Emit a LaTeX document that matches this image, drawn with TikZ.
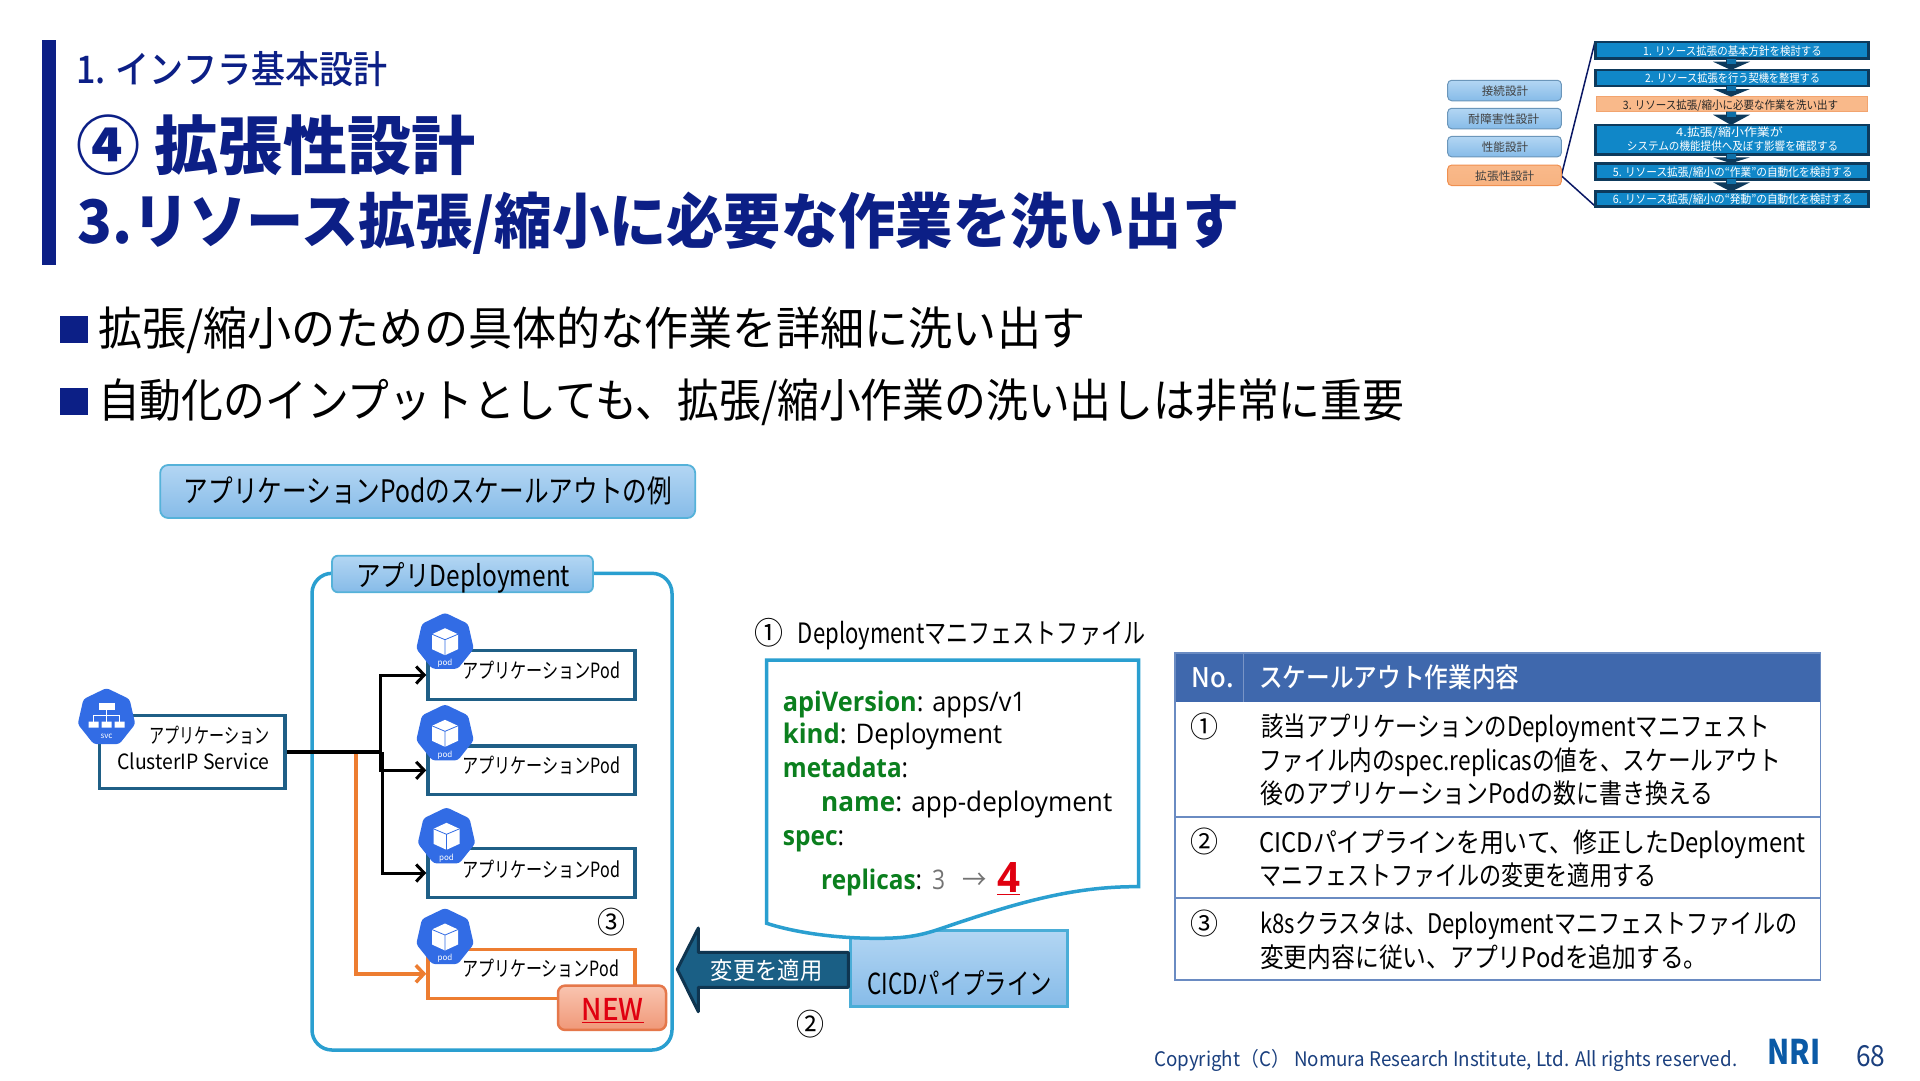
\documentclass[tikz,border=0pt]{standalone}
\usepackage{fontspec}
\usepackage{graphicx}
\usepackage{xcolor}
\setmainfont{Noto Sans CJK JP}
\newfontfamily\codefont{Open Sans}
\newfontfamily\medfont{Noto Sans CJK JP}[UprightFont=* Medium]
\usetikzlibrary{shapes.geometric,arrows.meta}
\definecolor{navy}{HTML}{0C1F86}
\definecolor{podline}{HTML}{1F5F86}
\definecolor{groupblue}{HTML}{2A9FD0}
\definecolor{k8sblue}{HTML}{326CE5}
\definecolor{oran}{HTML}{ED7D31}
\definecolor{codegreen}{HTML}{0B7F1E}
\definecolor{alertred}{HTML}{E00010}
\definecolor{tablehead}{HTML}{3F68AD}
\definecolor{tableline}{HTML}{6A8BC2}
\definecolor{footblue}{HTML}{1A3F7E}
\definecolor{logoblue}{HTML}{0B5AA6}
\definecolor{sblueT}{HTML}{B3D6F3}
\definecolor{sblueB}{HTML}{86BBE8}
\definecolor{arrowfill}{HTML}{1A5F85}
\definecolor{arrowline}{HTML}{0F3550}
\definecolor{navfill}{HTML}{1087C8}
\definecolor{navline}{HTML}{0D3A5C}
\definecolor{navorange}{HTML}{F9B98A}
\definecolor{newT}{HTML}{F9C4B0}
\definecolor{newB}{HTML}{F09878}
\definecolor{newL}{HTML}{E5774A}
\newcounter{tn}
\newcommand\tx[6][black]{\stepcounter{tn}\pgfmathsetmacro\tby{#3+0.38*#5}%
  \node[anchor=base west,inner sep=0pt,text=#1] (t\arabic{tn}) at (#2,\tby)
  {\resizebox{#4pt}{\height}{\fontsize{#5pt}{#5pt}\selectfont #6}};}
\newcommand\kw[1]{\textcolor{codegreen}{\bfseries #1}}
\newcommand\podicon[3]{%
  \node[k8s] (#1) at (#2,#3) {};
  \begin{scope}[shift={(#2,#3)}]
    \fill[white] (0,-14) -- (13,-8) -- (13,7) -- (0,13) -- (-13,7) -- (-13,-8) -- cycle;
    \draw[k8sblue,line width=0.8pt] (-13,-8) -- (0,-2.5) -- (13,-8) (0,-2.5) -- (0,13);
    \stepcounter{tn}
    \node[inner sep=0pt,text=white,font=\fontsize{8pt}{8pt}\selectfont] (t\arabic{tn}) at (0,21) {pod};
  \end{scope}}
\newcommand\navarrow[2]{%
  \fill[navline] (1713,#1+3) -- (1726,#1+3) -- (1726,#1) -- (1736,#1) -- (1736,#1+3) -- (1750,#1+3) -- (1731,#2) -- cycle;
  \fill[navfill!70!navline] (1726.5,#1) rectangle (1735.5,#1+5);}
\tikzset{
  podbox/.style={draw=podline,line width=3.5pt,fill=white,minimum width=207pt,minimum height=48.6pt,inner sep=0pt},
  neworange/.style={draw=oran,line width=3.5pt,fill=white,minimum width=207pt,minimum height=49pt,inner sep=0pt},
  k8s/.style={regular polygon,regular polygon sides=7,minimum size=59pt,inner sep=0pt,fill=k8sblue,rounded corners=3pt},
  bluegrad/.style={top color=sblueT,bottom color=sblueB,draw=groupblue!80!white,line width=1.8pt,inner sep=0pt},
  sidebtn/.style={top color=sblueT,bottom color=sblueB,draw=sblueB!80!black,line width=1pt,rounded corners=4pt,minimum width=113.6pt,minimum height=20.5pt,inner sep=0pt},
  sidebtnon/.style={top color=navorange,bottom color=navorange!90!oran,draw=oran!85!white,line width=1pt,rounded corners=4pt,minimum width=113.6pt,minimum height=20.5pt,inner sep=0pt},
  navbox/.style={fill=navfill,draw=navline,line width=2.6pt,minimum width=272.6pt,inner sep=0pt},
  wire/.style={line width=3pt,black,-{Straight Barb[length=8pt,width=17pt,line width=3pt]}},
  wireorange/.style={line width=4pt,oran,-{Straight Barb[length=8pt,width=17pt,line width=3.5pt]}},
}
\begin{document}
\begin{tikzpicture}[x=1pt,y=-1pt]
\useasboundingbox (0,0) rectangle (1920,1080);
\fill[white] (0,0) rectangle (1920,1080);

% title
\fill[navy] (42,40) rectangle (56,264.5);
\tx[navy]{76}{69}{311}{38}{\medfont 1. インフラ基本設計}
\tx[navy]{76}{145}{399}{64}{\bfseries ④ 拡張性設計}
\tx[navy]{77}{221}{1162}{60}{\bfseries 3.リソース拡張/縮小に必要な作業を洗い出す}

% bullets
\fill[navy] (60,316) rectangle (88,343);
\fill[navy] (60,388) rectangle (88,415);
\tx{98}{328}{987}{46}{拡張/縮小のための具体的な作業を詳細に洗い出す}
\tx{98}{400}{1306}{46}{自動化のインプットとしても、拡張/縮小作業の洗い出しは非常に重要}

% callout
\node[bluegrad,rounded corners=8pt,minimum width=535pt,minimum height=53pt] (callout) at (427.7,491.5) {};
\tx{183.7}{491}{488}{31}{アプリケーションPodのスケールアウトの例}

% navigator
\draw[navy!75!black,line width=1.5pt] (1561.3,175.7) -- (1595,41.7);
\draw[navy!75!black,line width=1.5pt] (1561.3,175.7) -- (1595,206);
\node[sidebtn] (s1) at (1504.5,90.5) {};
\node[sidebtn] (s2) at (1504.5,118.5) {};
\node[sidebtn] (s3) at (1504.5,146.6) {};
\node[sidebtnon] (s4) at (1504.5,175.3) {};
\tx[black!75]{1481.7}{90.7}{46.3}{11.5}{接続設計}
\tx[black!75]{1468}{119}{71}{11.5}{耐障害性設計}
\tx[black!75]{1481.7}{146.7}{46.3}{11.5}{性能設計}
\tx[black!75]{1475}{175.7}{59}{11.5}{拡張性設計}
\node[navbox,minimum height=16.7pt] (n1) at (1732,50.3) {};
\node[navbox,minimum height=16pt] (n2) at (1732,78) {};
\node[minimum width=271pt,minimum height=15pt,inner sep=0pt,fill=navorange,draw=oran!70!white,line width=1pt] (n3) at (1732,104.2) {};
\node[navbox,minimum height=29.3pt] (n4) at (1732,139.7) {};
\node[navbox,minimum height=16pt] (n5) at (1732,171.3) {};
\node[navbox,minimum height=15pt] (n6) at (1732,199.2) {};
\navarrow{58.7}{70}
\navarrow{86}{96.7}
\navarrow{111.7}{125}
\navarrow{154.3}{163.3}
\navarrow{179.3}{191.7}
\tx[white]{1643}{50.7}{178.7}{11.5}{1. リソース拡張の基本方針を検討する}
\tx[white]{1645}{77.7}{175}{11.5}{2. リソース拡張を行う契機を整理する}
\tx[black!85]{1622.7}{105}{215.3}{11.5}{3. リソース拡張/縮小に必要な作業を洗い出す}
\tx[white]{1676}{131.7}{106.7}{11.5}{4.拡張/縮小作業が}
\tx[white]{1626.7}{145.7}{211.3}{11.5}{システムの機能提供へ及ぼす影響を確認する}
\tx[white]{1612.7}{171.7}{239.6}{11.5}{5. リソース拡張/縮小の“作業”の自動化を検討する}
\tx[white]{1612.7}{199}{239.6}{11.5}{6. リソース拡張/縮小の“発動”の自動化を検討する}

% deployment group
\draw[groupblue,line width=3.5pt,rounded corners=20pt] (312,573.3) rectangle (672,1050);
\node[bluegrad,rounded corners=6pt,minimum width=261pt,minimum height=36.6pt] (grouplabel) at (462.5,574) {};
\tx{356}{575.7}{214}{29}{アプリDeployment}

% service and pods
\node[draw=podline,line width=3.5pt,fill=white,minimum width=185.4pt,minimum height=72.6pt,inner sep=0pt] (svc) at (192.3,752) {};
\node[podbox] (pod1) at (531.5,675) {};
\node[podbox] (pod2) at (531.5,770.3) {};
\node[podbox] (pod3) at (531.5,873) {};
\node[neworange] (pod4) at (531.5,973.8) {};
\coordinate (jb) at (380.5,752);
\coordinate (jo) at (356,752);
\draw[oran,line width=4pt] (jo) -- ++(0,6);
\draw[wireorange] (jo) |- (pod4.west);
\draw[black,line width=4.5pt] (svc.east) -- (jb);
\draw[wire] (jb) |- (pod1.west);
\draw[wire] (jb) |- (pod2.west);
\draw[wire] (jb) ++(1.5,0) |- (pod3.west);

\podicon{ic1}{445}{642.2}
\podicon{ic2}{445}{733.8}
\podicon{ic3}{446.5}{836.8}
\podicon{ic4}{445}{937.5}
\node[k8s] (ic0) at (106.5,717.5) {};
\fill[white] (98.5,702.5) rectangle (114.5,709.5);
\fill[white] (88.5,721.5) rectangle (98.5,727.5) (101.5,721.5) rectangle (111.5,727.5) (114.5,721.5) rectangle (124.5,727.5);
\draw[white,line width=1.2pt] (106.5,709.5) -- (106.5,721.5) (93.5,721.5) -- (93.5,715.5) -- (119.5,715.5) -- (119.5,721.5);
\stepcounter{tn}
\node[inner sep=0pt,text=white,font=\fontsize{8pt}{8pt}\selectfont] (t\arabic{tn}) at (106.5,736.5) {svc};

\tx{149}{736}{120}{21}{アプリケーション}
\tx{117}{761.7}{152}{21}{ClusterIP Service}
\tx{462}{671}{158}{21}{アプリケーションPod}
\tx{462}{766}{158}{21}{アプリケーションPod}
\tx{462}{869.3}{158}{21}{アプリケーションPod}
\tx{462}{969}{157}{21}{アプリケーションPod}
\tx{597}{922}{28}{30}{③}

\node[top color=newT,bottom color=newB,draw=newL,line width=2.5pt,rounded corners=7pt,minimum width=108pt,minimum height=44.3pt,inner sep=0pt] (newtag) at (612,1007.8) {};
\tx[alertred]{581.6}{1009}{62}{30}{\medfont\underline{NEW}}

% CICD
\node[bluegrad,draw=groupblue!85!white,line width=3pt,minimum width=216.7pt,minimum height=76pt] (cicd) at (959.3,968.7) {};

% manifest document
\draw[groupblue,line width=3.5pt,fill=white] (766.7,660) -- (1138.7,660) -- (1138.7,886.7)
  .. controls (1070,886) and (1010,905) .. (936.7,930)
  .. controls (915,937) and (900,938.3) .. (876.7,938.3)
  .. controls (830,938.3) and (790,931) .. (766.7,923.3) -- cycle;
\tx{754}{633}{29}{31}{①}
\tx{797.7}{633}{347.3}{28}{Deploymentマニフェストファイル}
\tx{782.7}{701}{243}{27}{\codefont\kw{apiVersion}: apps/v1}
\tx{782.7}{733}{219.3}{27}{\codefont\kw{kind}: Deployment}
\tx{782.7}{767.7}{125.3}{27}{\codefont\kw{metadata}:}
\tx{821}{801}{291}{27}{\codefont\kw{name}: app-deployment}
\tx{782.7}{835}{61.3}{27}{\codefont\kw{spec}:}
\tx{821}{879}{101}{27}{\codefont\kw{replicas}:}
\tx[black!55]{932}{879}{13}{27}{\codefont 3}
\tx[black!55]{962.7}{879}{24.3}{27}{→}
\tx[alertred]{997}{877}{23}{42}{\codefont\bfseries\underline{4}}

\tx{867}{983}{184.7}{29}{CICDパイプライン}

% apply arrow
\draw[arrowline,line width=3pt,fill=arrowfill,line join=round] (848.3,952.3) -- (698.3,952.3) -- (698.3,928) -- (677.3,969.3) -- (698.3,1011.7) -- (698.3,987.3) -- (848.3,987.3) -- cycle;
\tx[white]{710.7}{970}{111.6}{24}{変更を適用}
\tx{796}{1024}{28}{30}{②}

% table
\fill[tablehead] (1175,652.7) rectangle (1820.4,701.7);
\draw[tablehead!70!white,line width=0.8pt] (1243,652.7) -- (1243,701.7);
\draw[tableline,line width=1.6pt] (1175,652.7) rectangle (1820.4,980);
\draw[tableline,line width=1.6pt] (1175,816.7) -- (1820.4,816.7) (1175,897.7) -- (1820.4,897.7);
\tx[white]{1191.7}{677.7}{41.8}{27}{\medfont No.}
\tx[white]{1259}{677.7}{260.4}{27}{\medfont スケールアウト作業内容}
\tx{1190}{726}{28}{29}{①}
\tx{1190}{841.7}{28}{29}{②}
\tx{1190}{923}{28}{29}{③}
\tx{1261}{726.7}{508.8}{27}{該当アプリケーションのDeploymentマニフェスト}
\tx{1259}{760}{522}{27}{ファイル内のspec.replicasの値を、スケールアウト}
\tx{1260}{793.3}{453}{27}{後のアプリケーションPodの数に書き換える}
\tx{1259}{842}{546.7}{27}{CICDパイプラインを用いて、修正したDeployment}
\tx{1259}{875}{397}{27}{マニフェストファイルの変更を適用する}
\tx{1260}{923.3}{537}{27}{k8sクラスタは、Deploymentマニフェストファイルの}
\tx{1260}{957.3}{447.5}{27}{変更内容に従い、アプリPodを追加する。}

% footer
\tx[footblue]{1154}{1059.3}{583}{20}{Copyright（C）\ Nomura Research Institute, Ltd. All rights reserved.}
\stepcounter{tn}
\node[anchor=base west,inner sep=0pt,text=logoblue] (t\arabic{tn}) at (1767.4,1064.3)
  {\resizebox{53pt}{25.3pt}{\bfseries NRI}};
\tx[footblue]{1855.8}{1055}{29.2}{29}{68}
\end{tikzpicture}
\end{document}
